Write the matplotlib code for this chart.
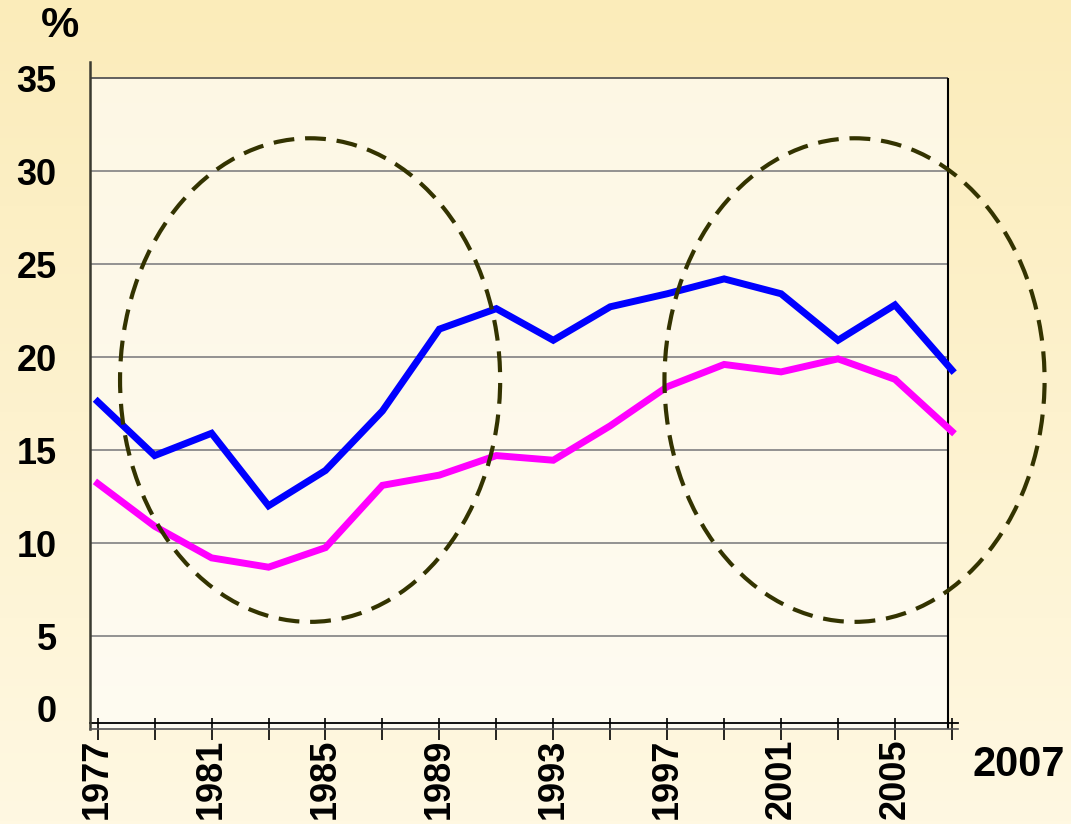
"""Two series, 1977-2007, with dashed ellipses."""

import numpy as np
import matplotlib
matplotlib.use('Agg')
import matplotlib.pyplot as plt
from matplotlib.patches import Ellipse, Rectangle
import matplotlib.transforms as mtransforms

plt.rcParams['font.family'] = ['Liberation Sans', 'DejaVu Sans']

# data
years = [1977, 1979, 1981, 1983, 1985, 1987, 1989, 1991,
         1993, 1995, 1997, 1999, 2001, 2003, 2005, 2007]
blue_vals = [17.6, 14.7, 15.9, 12.0, 13.9, 17.1, 21.5, 22.6,
             20.9, 22.7, 23.4, 24.2, 23.4, 20.9, 22.8, 19.3]
magenta_vals = [13.2, 10.9, 9.2, 8.7, 9.75, 13.1, 13.65, 14.7,
                14.45, 16.3, 18.4, 19.6, 19.2, 19.9, 18.8, 16.0]
y_ticks = [0, 5, 10, 15, 20, 25, 30, 35]
x_labelled = [1977, 1981, 1985, 1989, 1993, 1997, 2001, 2005]

W, H = 1071, 824
fig = plt.figure(figsize=(W / 100, H / 100), dpi=100)

# yellow gradient background
bg = fig.add_axes([0, 0, 1, 1])
top = np.array([251, 236, 186]) / 255
bottom = np.array([255, 248, 226]) / 255
t = np.linspace(0, 1, 256)[:, None]
grad = top * (1 - t) + bottom * t
bg.imshow(grad[:, None, :], aspect='auto', extent=[0, 1, 0, 1])
bg.axis('off')

ax = fig.add_axes([90 / W, (H - 729) / H, (957.6 - 90) / W, (729 - 62.2) / H])
ax.set_facecolor('none')
x0, x_frame = 1976.73, 2006.86
ax.set_xlim(x0, 2007.2)
ax.set_ylim(0, 35.85)

# lighter plot area
ax.add_patch(Rectangle((x0, 0), x_frame - x0, 35, facecolor='white',
                       alpha=0.6, edgecolor='none', zorder=0))

# gridlines
for v in y_ticks[1:]:
    col = '#555555' if v == 35 else '#8a8a8a'
    ax.hlines(v, x0, x_frame, color=col, lw=1.3, zorder=1)

# right frame and double bottom line
ax.vlines(x_frame, 0, 35, color='black', lw=1.5, zorder=2)
ax.axhline(0.3, color='black', lw=1.3, zorder=2, clip_on=False)

ax.plot(years, blue_vals, color='#0000ff', lw=5, zorder=4,
        clip_on=False, solid_joinstyle='miter')
ax.plot(years, magenta_vals, color='#ff00ff', lw=5, zorder=4,
        clip_on=False, solid_joinstyle='miter')

for cx in (1984.46, 2003.58):
    ax.add_patch(Ellipse((cx, 18.76), 13.35, 26.0, fill=False,
                         ls=(0, (5, 2.6)), lw=3, ec='#333300',
                         zorder=5, clip_on=False))

for s in ('top', 'right'):
    ax.spines[s].set_visible(False)
ax.spines['left'].set_color('#3a3a30')
ax.spines['left'].set_linewidth(1.8)
ax.spines['bottom'].set_color('#555555')
ax.spines['bottom'].set_linewidth(1.2)

ax.set_xticks(years)
ax.set_xticklabels([str(y) if y in x_labelled else '' for y in years],
                   rotation=90, fontsize=26, fontweight='bold', va='top')
ax.tick_params(axis='x', direction='inout', length=16, width=1.2,
               pad=-1, color='black')

ax.set_yticks(y_ticks)
ax.set_yticklabels([str(v) for v in y_ticks], fontsize=26, fontweight='bold')
ax.tick_params(axis='y', length=0, pad=24)
# bottom label sits a bit higher in the reference
lab0 = ax.get_yticklabels()[0]
lab0.set_transform(lab0.get_transform() +
                   mtransforms.ScaledTranslation(0, 20 / 100, fig.dpi_scale_trans))

fig.text(60 / W, 1 - 26 / H, '%', fontsize=31, fontweight='bold',
         ha='center', va='center')
fig.text(1019 / W, 1 - 765 / H, '2007', fontsize=30, fontweight='bold',
         ha='center', va='center')

fig.savefig('out.png', dpi=100)
